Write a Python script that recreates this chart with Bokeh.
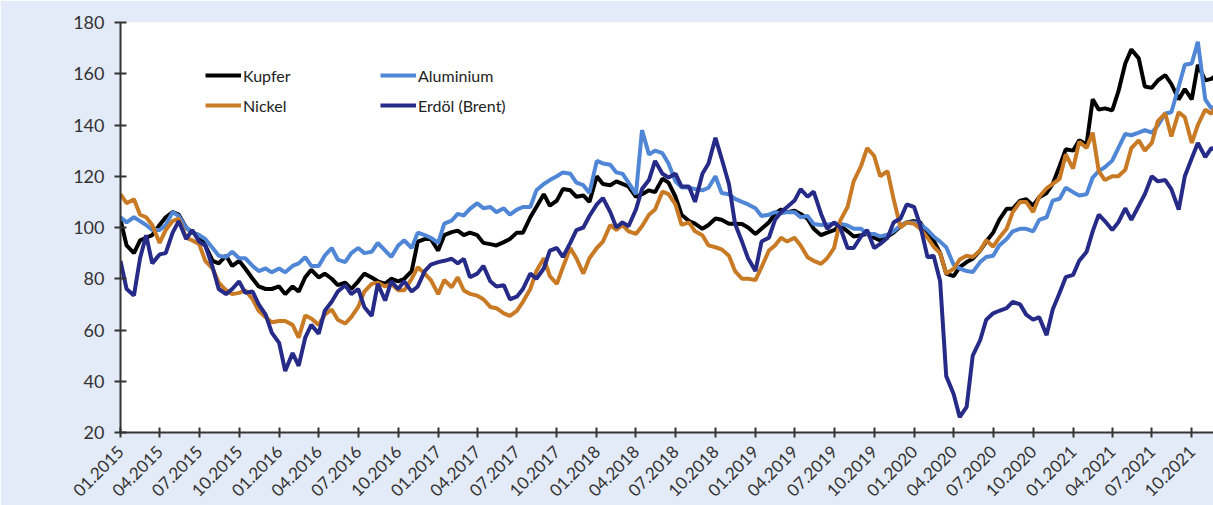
import math
import pandas as pd
from datetime import datetime
from bokeh.plotting import figure
from bokeh.models import Range1d, FixedTicker, DatetimeTickFormatter, Legend, LegendItem
from bokeh.embed import file_html
from bokeh.resources import INLINE

# semi-monthly index values (Jan 2015 = 100-ish base)
kupfer = [103, 93, 90, 95, 96, 97, 101, 104, 106, 105, 100, 98, 97, 93, 87, 86, 89, 85, 87, 84,
          80, 77, 76, 76, 77, 74, 77, 75, 80.6, 83.5, 80.5, 82, 80, 77.5, 78.5, 76, 79, 82, 80.5, 79,
          78, 80, 79, 80, 83, 94.5, 95.5, 95.5, 91, 97, 98.2, 98.8, 97, 98, 97, 94, 93.5, 93, 94.3, 95.5,
          98, 98, 104, 108, 113, 108.5, 110.5, 115, 114.5, 112, 112.5, 110, 120, 117, 116.5, 118, 117, 116, 112, 113,
          114.5, 113.8, 119, 117.5, 112, 105, 102.5, 101.5, 99.5, 101, 103.5, 103, 101.5, 101.5, 101.4, 100, 97.5, 99.5, 102, 105.5,
          107, 106, 106.5, 105.3, 103.4, 99.5, 97, 98, 99, 100.8, 98.5, 96.5, 97, 97.5, 96, 95, 96.5, 98, 100.5, 102,
          102.5, 102, 97.5, 95, 90, 82, 81, 84.5, 86.5, 87.8, 91, 94.5, 98, 103, 107.3, 107.3, 110.5, 111, 108.5, 111.8,
          113.5, 117, 124, 130.5, 130, 134, 132.5, 150, 146, 146.5, 145.7, 153, 164, 169.5, 166, 155, 154.5, 157.4, 159.5, 156,
          150, 154, 150, 163.5, 157.4, 158, 160]
aluminium = [104, 102, 104, 102.5, 101, 99, 99, 101, 106, 104.5, 100, 98, 97, 95.5, 92, 89, 88.5, 90.5, 88, 88,
             85, 83, 84, 82.5, 84, 82.5, 85, 86, 88.4, 85, 85, 89, 92, 87.5, 86.5, 90, 92, 90, 90.5, 94,
             91, 88.5, 93, 95, 92, 98, 97, 96, 94, 101.5, 102.7, 105.3, 104.7, 107.3, 109.5, 107.5, 108, 106, 107.5, 105,
             107, 108, 108, 114.5, 117, 118.5, 120, 121.5, 121, 117.5, 116.5, 113.5, 126, 125, 124.5, 121.5, 121, 117.5, 113, 138,
             128.5, 130, 129, 125, 118, 115.7, 115.5, 115, 114.5, 115.5, 120, 113.5, 113, 111.2, 110, 109, 107.5, 104.5, 105, 106,
             105.5, 106, 106, 104, 104.5, 101.4, 101, 101.2, 101.5, 101.5, 100.8, 99.5, 99.5, 97.5, 97.5, 96.5, 97.2, 98.5, 100.8, 102,
             102, 101.4, 99, 96.5, 94.5, 92.3, 85.5, 84, 83, 82.6, 86.5, 88.5, 89, 93, 95.5, 98.5, 99.5, 99.5, 98.5, 103,
             104, 110.5, 111.2, 115.5, 113.8, 112.5, 113, 119.5, 122, 123.5, 126.1, 131, 136.5, 136, 137, 138, 137, 139.8, 144.5, 145,
             155, 163.5, 164, 172.5, 150, 146.5, 148]
nickel = [113, 109.5, 111, 105, 104, 101, 94, 99, 102.5, 103.5, 96, 95, 93.5, 87, 84, 78.5, 75.5, 74, 74.5, 75.5,
          72, 67.5, 65, 63, 63.5, 63.5, 62, 57, 65.6, 64.5, 62, 66, 68, 64, 62.5, 65, 69, 75, 78, 78.5,
          77, 78, 75.5, 75.5, 80, 84.5, 82, 79.5, 74, 79.5, 76.7, 80.6, 75.4, 74.1, 73.4, 72, 69, 68.5, 66.5, 65.5,
          67.5, 71, 76, 83, 88, 81, 78, 84.5, 92, 88, 82, 88, 92, 94.5, 101, 99, 101, 98.5, 97.5, 100.5,
          105, 107, 114, 113, 109, 101, 102, 98.5, 97, 93, 92.3, 91.5, 89, 83, 80, 80, 79.5, 84.5, 91, 93,
          96, 94.5, 96, 93, 88.4, 87, 85.8, 88, 92, 102.7, 108, 118, 124, 131, 128, 120, 122, 111, 100, 102,
          101.5, 99.5, 96, 92.5, 90, 82, 83.9, 87.5, 89, 88.5, 91, 95, 92.5, 96, 99.5, 106, 110, 110, 106, 112,
          115.3, 117, 119, 128.5, 123, 133.5, 131, 137, 122, 118.5, 120, 120, 122.5, 131, 134, 130, 133, 141.5, 144.5, 135.5,
          145, 143, 133, 140, 146, 144.4, 149]
erdoel = [87, 76, 73.5, 88, 97, 86, 89.5, 90, 98, 102.5, 95.5, 99, 94.5, 93, 84.5, 76, 74, 76, 79, 74.5,
          75, 70, 66, 59, 55, 44, 51, 46, 57, 62, 58.5, 67.5, 71, 75, 77.5, 74, 76, 69, 65.5, 78,
          71.5, 79, 76, 79, 75, 77, 83, 85.5, 86.5, 87, 87.8, 86, 87.8, 80.6, 82, 85, 79, 77, 77.5, 72,
          73, 76, 82, 80, 84, 91, 92, 88.5, 94, 99, 100, 104.5, 109, 111.5, 106, 100, 102, 100.5, 107, 115,
          118.5, 126, 121, 119.5, 121, 116, 116, 110, 121, 125, 135, 127, 117, 101.5, 94.5, 88, 83, 94.5, 96, 103,
          106, 108, 110.5, 115, 112, 114, 105.3, 99.5, 102, 100, 92, 92, 96.5, 99, 92, 93.6, 96, 102, 103.5, 109,
          108, 101, 88.4, 89, 79, 42, 35, 26, 30, 50, 56, 64, 66.5, 67.5, 68.5, 71, 70, 66, 64, 65,
          58, 68, 74.5, 80.6, 81.5, 87, 90.5, 98.5, 105, 102.5, 99, 102, 107.5, 103, 108.5, 113, 120, 118, 118.5, 115,
          107, 120, 127, 133, 127.5, 131, 130]

tick_labels = ["01.2015", "04.2015", "07.2015", "10.2015", "01.2016", "04.2016", "07.2016", "10.2016",
               "01.2017", "04.2017", "07.2017", "10.2017", "01.2018", "04.2018", "07.2018", "10.2018",
               "01.2019", "04.2019", "07.2019", "10.2019", "01.2020", "04.2020", "07.2020", "10.2020",
               "01.2021", "04.2021", "07.2021", "10.2021"]

dates = pd.date_range("2015-01-01", periods=len(kupfer), freq="SMS")

BG = "#e3eaf8"
FONT = "Lato"

p = figure(width=1213, height=505, x_axis_type="datetime", output_backend="svg",
           toolbar_location=None,
           x_range=Range1d(datetime(2015, 1, 1), datetime(2021, 11, 20)),
           y_range=Range1d(20, 180),
           min_border_left=120, min_border_right=0, min_border_top=22, min_border_bottom=73)
p.background_fill_color = "white"
p.border_fill_color = BG
p.outline_line_color = None
p.xgrid.grid_line_color = None
p.ygrid.grid_line_color = None

rk = p.line(dates, kupfer, line_color="#000000", line_width=4)
ra = p.line(dates, aluminium, line_color="#4f86d5", line_width=4)
rn = p.line(dates, nickel, line_color="#c97a24", line_width=4)
re = p.line(dates, erdoel, line_color="#262b88", line_width=4)

tick_ms = [pd.Timestamp(datetime.strptime(t, "%m.%Y")).value / 1e6 for t in tick_labels]
p.xaxis.ticker = FixedTicker(ticks=tick_ms)
fmt = "%m.%Y"
p.xaxis.formatter = DatetimeTickFormatter(microseconds=fmt, milliseconds=fmt, seconds=fmt, minsec=fmt,
                                          minutes=fmt, hourmin=fmt, hours=fmt, days=fmt, months=fmt, years=fmt)
p.xaxis.major_label_orientation = math.pi / 4
p.yaxis.ticker = FixedTicker(ticks=list(range(20, 181, 20)))

for ax in (p.xaxis[0], p.yaxis[0]):
    ax.axis_line_color = "#333333"
    ax.axis_line_width = 2
    ax.major_tick_line_color = "#333333"
    ax.major_tick_line_width = 2
    ax.minor_tick_line_color = None
    ax.major_label_text_font = FONT
    ax.major_label_text_color = "#333333"
p.yaxis.major_tick_in = 6
p.yaxis.major_tick_out = 6
p.xaxis.major_tick_in = 5
p.xaxis.major_tick_out = 5
p.yaxis.major_label_text_font_size = "18px"
p.xaxis.major_label_text_font_size = "17px"
p.yaxis.major_label_standoff = 10
p.xaxis.major_label_standoff = 11

legend = Legend(items=[LegendItem(label="Kupfer", renderers=[rk]),
                       LegendItem(label="Nickel", renderers=[rn]),
                       LegendItem(label="Aluminium", renderers=[ra]),
                       LegendItem(label="Erdöl (Brent)", renderers=[re])],
                location=(85, 317), orientation="vertical", nrows=2,
                glyph_width=36, glyph_height=20, label_standoff=2, label_width=127,
                spacing=10, padding=0, margin=0, border_line_color=None,
                background_fill_alpha=0, label_text_font=FONT, label_text_font_size="16px",
                label_text_color="#222222")
p.add_layout(legend)

open("out.html", "w").write(file_html(p, INLINE))
